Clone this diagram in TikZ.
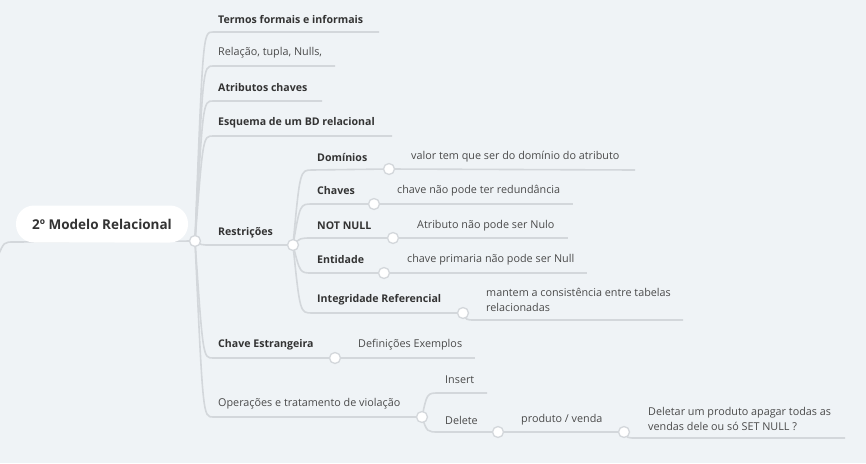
\documentclass[tikz,border=0pt]{standalone}
\usepackage{fontspec}
\setmainfont{Open Sans}
\usetikzlibrary{positioning}

\definecolor{bgcol}{HTML}{EFF3F6}
\definecolor{linecol}{HTML}{D3D7DB}
\definecolor{boldtxt}{HTML}{333333}
\definecolor{softtxt}{HTML}{4A4A4A}

\tikzset{
    branch/.style={draw=linecol, line width=1.6pt},
    dot/.style={circle, draw=linecol, line width=1.3pt, fill=white, inner sep=0pt, minimum size=11pt},
    topic/.style={font=\bfseries\fontsize{10.6}{13}\selectfont, text=boldtxt, anchor=west, inner sep=0pt},
    note/.style={font=\fontsize{10.8}{14.5}\selectfont, text=softtxt, anchor=west, inner sep=0pt, align=left},
}

\begin{document}
\begin{tikzpicture}[x=1pt,y=-1pt]
    \useasboundingbox[fill=bgcol] (0,0) rectangle (866,463);

    %%% joints %%%
    \coordinate (rootjoin) at (195,241);
    \coordinate (resjoin) at (293,245);
    \coordinate (domjoin) at (389,169);
    \coordinate (chvjoin) at (374,204);
    \coordinate (nnjoin) at (393,238);
    \coordinate (entjoin) at (384,273);
    \coordinate (intjoin) at (463,313);
    \coordinate (fkjoin) at (335,358);
    \coordinate (opjoin) at (422,417);
    \coordinate (deljoin) at (498,432);
    \coordinate (pvjoin) at (624,432);

    %%% line ends %%%
    \coordinate (termend) at (379,32);
    \coordinate (relend) at (335,66);
    \coordinate (atrend) at (322,101);
    \coordinate (esqend) at (392,136);
    \coordinate (domend) at (635,170);
    \coordinate (chvend) at (573,204);
    \coordinate (nnend) at (568,238);
    \coordinate (entend) at (587,273);
    \coordinate (intend) at (683,320);
    \coordinate (fkend) at (475,358);
    \coordinate (insend) at (487,393);
    \coordinate (pvend) at (845,438);

    % line coming from the parent (off the picture)
    \draw[branch] (rootjoin) -- (14,242) .. controls (4,242) .. (-2,256);

    %% main trunk
    \draw[branch] (rootjoin) .. controls (203,32) .. (213,32) -- (termend);
    \draw[branch] (rootjoin) .. controls (203,66) .. (213,66) -- (relend);
    \draw[branch] (rootjoin) .. controls (203,101) .. (213,101) -- (atrend);
    \draw[branch] (rootjoin) .. controls (203,136) .. (213,136) -- (esqend);
    \draw[branch] (rootjoin) .. controls (201,245) .. (211,245) -- (resjoin);
    \draw[branch] (rootjoin) .. controls (203,358) .. (213,358) -- (fkjoin);
    \draw[branch] (rootjoin) .. controls (203,417) .. (213,417) -- (opjoin);

    %% restricoes
    \draw[branch] (resjoin) .. controls (300,170) .. (312,170) -- (domjoin);
    \draw[branch] (resjoin) .. controls (300,204) .. (312,204) -- (chvjoin);
    \draw[branch] (resjoin) .. controls (300,238) .. (312,238) -- (nnjoin);
    \draw[branch] (resjoin) .. controls (300,273) .. (312,273) -- (entjoin);
    \draw[branch] (resjoin) .. controls (300,313) .. (312,313) -- (intjoin);

    %% leaves of restricoes
    \draw[branch] (domjoin) -- (domend);
    \draw[branch] (chvjoin) -- (chvend);
    \draw[branch] (nnjoin) -- (nnend);
    \draw[branch] (entjoin) -- (entend);
    \draw[branch] (intjoin) .. controls (466,320) .. (475,320) -- (intend);

    %% chave estrangeira
    \draw[branch] (fkjoin) -- (fkend);

    %% operacoes
    \draw[branch] (opjoin) .. controls (427,393) .. (439,393) -- (insend);
    \draw[branch] (opjoin) .. controls (427,432) .. (439,432) -- (deljoin);
    \draw[branch] (deljoin) -- (pvjoin);
    \draw[branch] (pvjoin) .. controls (627,438) .. (636,438) -- (pvend);

    %%% root %%%
    \node[fill=white, rounded corners=18pt, minimum width=172pt, minimum height=37pt, inner sep=0pt,
          font=\bfseries\fontsize{13.5}{15}\selectfont, text=boldtxt] (root) at (102,224) {2º Modelo Relacional};

    %%% texts %%%
    \node[topic] (termos) at (218,19) {Termos formais e informais};
    \node[note] (relacao) at (218,53) {Relação, tupla, Nulls,};
    \node[topic] (atributos) at (218,88) {Atributos chaves};
    \node[topic] (esquema) at (218,123) {Esquema de um BD relacional};
    \node[topic] (restricoes) at (218,233) {Restrições};
    \node[topic] (chaveestr) at (218,345) {Chave Estrangeira};
    \node[note] (operacoes) at (218,404) {Operações e tratamento de violação};

    \node[topic] (dominios) at (317,157) {Domínios};
    \node[topic] (chaves) at (317,191) {Chaves};
    \node[topic] (notnull) at (317,226) {NOT NULL};
    \node[topic] (entidade) at (317,260) {Entidade};
    \node[topic] (integridade) at (317,300) {Integridade Referencial};

    \node[note] (domtxt) at (411,157) {valor tem que ser do domínio do atributo};
    \node[note] (chvtxt) at (397,191) {chave não pode ter redundância};
    \node[note] (nntxt) at (417,226) {Atributo não pode ser Nulo};
    \node[note] (enttxt) at (407,260) {chave primaria não pode ser Null};
    \node[note] (inttxt) at (486,300) {mantem a consistência entre tabelas\\relacionadas};
    \node[note] (fktxt) at (358,345) {Definições Exemplos};

    \node[note] (insert) at (445,380) {Insert};
    \node[note] (delete) at (445,420) {Delete};
    \node[note] (prodvenda) at (521,420) {produto / venda};
    \node[note] (deletar) at (648,419) {Deletar um produto apagar todas as\\vendas dele ou só SET NULL ?};

    %%% dots %%%
    \foreach \j in {rootjoin,resjoin,domjoin,chvjoin,nnjoin,entjoin,intjoin,fkjoin,opjoin,deljoin,pvjoin}
        \node[dot] at (\j) {};
\end{tikzpicture}
\end{document}
